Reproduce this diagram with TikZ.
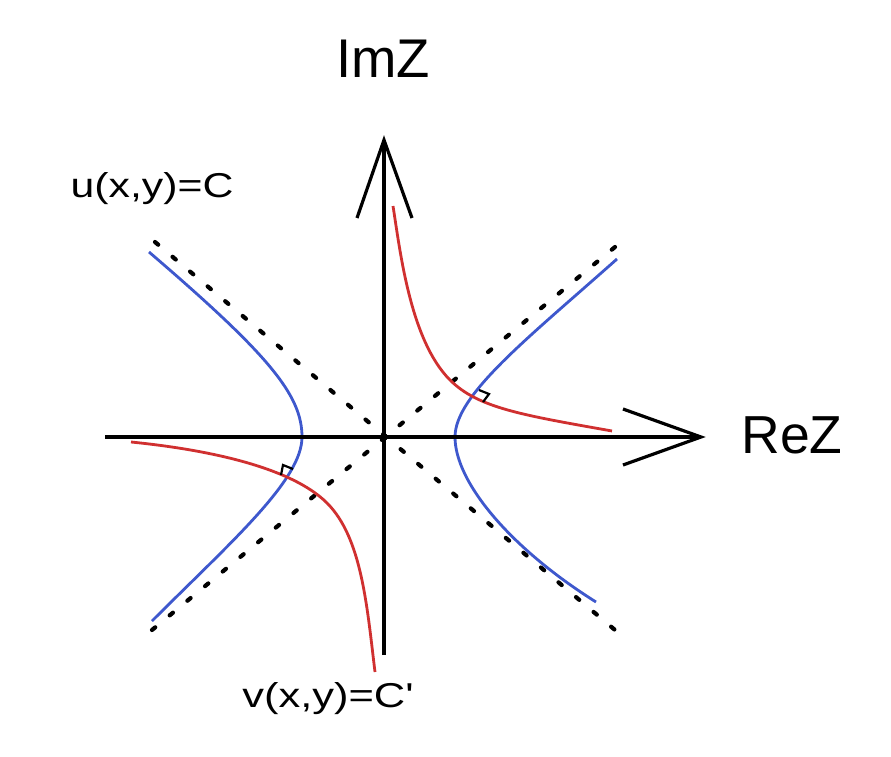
\documentclass[tikz,border=0pt]{standalone}
\usepackage{fontspec}
\newfontfamily\labfont{Liberation Sans}
\definecolor{cblue}{RGB}{62,88,205}
\definecolor{cred}{RGB}{208,48,48}
\begin{document}
\begin{tikzpicture}[x=1pt,y=-1pt,
  axis/.style={line width=3.2pt, black},
  armline/.style={line width=3.2pt, black, line join=miter},
  asym/.style={line width=4.2pt, line cap=round, dash pattern=on 4.2pt off 18.75pt},
  ucurve/.style={cblue, line width=2.8pt},
  vcurve/.style={cred, line width=2.8pt},
  ra/.style={line width=2.2pt, black},
  lbl/.style={inner sep=0pt, anchor=base, font=\labfont}]
\useasboundingbox[fill=white] (0,0) rectangle (891,757);

% coordinates
\coordinate (O) at (384,437);
\coordinate (xs) at (105,437);
\coordinate (xe) at (701,437);
\coordinate (xa1) at (623,409);
\coordinate (xa2) at (623,465);
\coordinate (ys) at (384,655);
\coordinate (ye) at (384,140);
\coordinate (ya1) at (357,218);
\coordinate (ya2) at (412,218);
\coordinate (d1s) at (155,242);
\coordinate (d1e) at (615,630);
\coordinate (d2s) at (152,630);
\coordinate (d2e) at (615,247);

% asymptotes
\draw[asym] (d1s) -- (d1e);
\draw[asym] (d2s) -- (d2e);

% blue hyperbola u = C
\coordinate (bl) at (302,437);
\coordinate (br) at (455,437);
\draw[ucurve] (149,252) .. controls (269,355) and (302,395) .. (bl)
  .. controls (302,480) and (232,541) .. (152,621);
\draw[ucurve] (617,259) .. controls (527,339) and (455,395) .. (br)
  .. controls (455,482) and (510,548) .. (596,602);

% red hyperbola v = C'
\coordinate (rr) at (450,380);
\coordinate (rl) at (327,503);
\draw[vcurve] (393,206) .. controls (400,250) and (410,340) .. (rr)
  .. controls (478,408) and (522,415) .. (612,431);
\draw[vcurve] (131,442) .. controls (211,450) and (292,468) .. (rl)
  .. controls (362,538) and (367,607) .. (375,672);

% right-angle marks
\coordinate (r1a) at (479,390);
\coordinate (r1b) at (489,394);
\coordinate (r1c) at (483,402);
\draw[ra] (r1a) -- (r1b) -- (r1c);
\coordinate (r2a) at (281,475);
\coordinate (r2b) at (283,465);
\coordinate (r2c) at (293,469);
\draw[ra] (r2a) -- (r2b) -- (r2c);

% axes
\draw[axis] (xs) -- (xe);
\draw[armline] (xa1) -- (xe) -- (xa2);
\draw[axis] (ys) -- (ye);
\draw[armline] (ya1) -- (ye) -- (ya2);
\fill (O) circle (3.8pt);

% labels
\node[lbl, font=\labfont\fontsize{54.5}{60}\selectfont] (im) at (383,78) {ImZ};
\node[lbl, font=\labfont\fontsize{53.5}{60}\selectfont] (re) at (792,453) {ReZ};
\node[lbl, font=\labfont\fontsize{34.5}{40}\selectfont] (ul) at (152,197) {\scalebox{1.24}[1]{u(x,y)=C}};
\node[lbl, font=\labfont\fontsize{34.5}{40}\selectfont] (vl) at (328,707) {\scalebox{1.26}[1]{v(x,y)=C'}};
\end{tikzpicture}
\end{document}
